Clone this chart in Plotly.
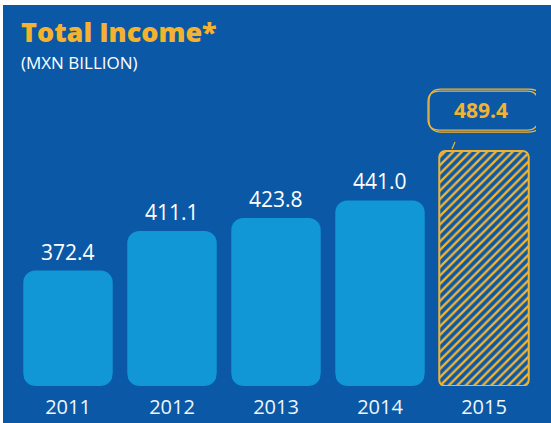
import plotly.graph_objects as go

# --- data -------------------------------------------------------------
years = ["2011", "2012", "2013", "2014", "2015"]
income = [372.4, 411.1, 423.8, 441.0, 489.4]   # MXN billion
value_labels = ["372.4", "411.1", "423.8", "441.0", "489.4"]

# --- styling ----------------------------------------------------------
BG = "#0b59a6"
BAR = "#1196d6"
GOLD = "#f3b331"
WHITE = "#ffffff"
FONT = "Open Sans"

W, H = 551, 423
M_L, M_R, M_T, M_B = 16, 15, 80, 37
Y_FLOOR, Y_TOP = 259.3, 559.0        # value axis window
BAR_W = 0.86
RADIUS = 12
LAST = len(years) - 1                # category index of the highlighted year

plot_w = W - M_L - M_R
plot_h = H - M_T - M_B
bar_px = BAR_W * plot_w / len(years)


def px_x(px):
    """Horizontal pixel -> paper coordinate."""
    return (px - M_L) / plot_w


def px_y(py):
    """Vertical pixel (from top) -> paper coordinate."""
    return (H - M_B - py) / plot_h


hist_years, hist_vals = years[:-1], income[:-1]

fig = go.Figure()

# historic bars, rounded at the top
fig.add_trace(go.Bar(
    x=hist_years, y=[v - Y_FLOOR for v in hist_vals], base=Y_FLOOR,
    width=BAR_W,
    marker=dict(color=BAR, cornerradius=RADIUS, line=dict(width=0)),
    hoverinfo="skip", showlegend=False,
))
# latest year: hatched, hung from its value down to the floor
fig.add_trace(go.Bar(
    x=[years[-1]], y=[Y_FLOOR - income[-1]], base=[income[-1]],
    width=BAR_W,
    marker=dict(
        color=BG, cornerradius=6,
        line=dict(color=GOLD, width=2),
        pattern=dict(shape="/", fgcolor=GOLD, bgcolor=BG, size=6,
                     solidity=0.4, fillmode="replace"),
    ),
    hoverinfo="skip", showlegend=False,
))

annotations = []
for i, (v, lab) in enumerate(zip(hist_vals, value_labels[:-1])):
    annotations.append(dict(
        x=i, y=v, xref="x", yref="y", text=lab, showarrow=False,
        yanchor="middle", yshift=19,
        font=dict(family=FONT, size=21, color=WHITE),
    ))
annotations.append(dict(
    x=LAST, y=income[-1], xref="x", yref="y", text=value_labels[-1],
    showarrow=False, yanchor="middle", yshift=41, xshift=-3,
    font=dict(family=FONT, size=21, color=GOLD, weight="bold"),
))
annotations.append(dict(
    x=px_x(19), y=px_y(32), xref="paper", yref="paper", text="Total Income*",
    showarrow=False, xanchor="left", yanchor="middle",
    font=dict(family=FONT, size=27, color=GOLD, weight=800),
))
annotations.append(dict(
    x=px_x(19), y=px_y(62), xref="paper", yref="paper", text="(MXN BILLION)",
    showarrow=False, xanchor="left", yanchor="middle",
    font=dict(family=FONT, size=17, color=WHITE),
))


def rounded_box(x0, y0, x1, y1, r):
    """Rounded rectangle path, pixel offsets with y pointing up."""
    return (f"M{x0 + r},{y0} L{x1 - r},{y0} Q{x1},{y0} {x1},{y0 + r} "
            f"L{x1},{y1 - r} Q{x1},{y1} {x1 - r},{y1} L{x0 + r},{y1} "
            f"Q{x0},{y1} {x0},{y1 - r} L{x0},{y0 + r} Q{x0},{y0} {x0 + r},{y0} Z")


def corner_masks(r):
    """Background-coloured wedges that round off a bar's bottom corners."""
    hw = bar_px / 2
    left = (f"M{-hw - 1},-1 L{-hw + r},-1 L{-hw + r},0 Q{-hw},0 {-hw},{r} "
            f"L{-hw - 1},{r} Z")
    right = (f"M{hw + 1},-1 L{hw - r},-1 L{hw - r},0 Q{hw},0 {hw},{r} "
             f"L{hw + 1},{r} Z")
    return left, right


shapes = [
    # white strips along the top and left edges
    dict(type="rect", xref="paper", yref="paper",
         x0=px_x(-5), x1=px_x(W + 5), y0=px_y(5), y1=px_y(-5),
         fillcolor="white", line=dict(width=0), layer="above"),
    dict(type="rect", xref="paper", yref="paper",
         x0=px_x(-5), x1=px_x(3), y0=px_y(H + 5), y1=px_y(-5),
         fillcolor="white", line=dict(width=0), layer="above"),
]
for i in range(len(hist_years)):
    for p in corner_masks(RADIUS):
        shapes.append(dict(
            type="path", xref="x", yref="y", xsizemode="pixel",
            ysizemode="pixel", xanchor=i, yanchor=Y_FLOOR, path=p,
            fillcolor=BG, line=dict(width=0), layer="above",
        ))
# hand-drawn loop around the latest value
for (bx0, by0, bx1, by1, rr) in [(-56, 21, 54, 60, 11), (-55, 19, 57, 62, 12)]:
    shapes.append(dict(
        type="path", xref="x", yref="y", xsizemode="pixel", ysizemode="pixel",
        xanchor=LAST, yanchor=income[-1],
        path=rounded_box(bx0, by0, bx1, by1, rr),
        line=dict(color=GOLD, width=1.3), fillcolor="rgba(0,0,0,0)",
    ))
# small pen flick above the hatched bar
shapes.append(dict(
    type="path", xref="x", yref="y", xsizemode="pixel", ysizemode="pixel",
    xanchor=LAST, yanchor=income[-1],
    path="M-32,2 L-29,9", line=dict(color=GOLD, width=1.2),
))

fig.update_layout(
    width=W, height=H,
    margin=dict(l=M_L, r=M_R, t=M_T, b=M_B),
    paper_bgcolor=BG, plot_bgcolor=BG,
    barmode="overlay",
    xaxis=dict(
        type="category", categoryorder="array", categoryarray=years,
        range=[-0.5, len(years) - 0.5], autorange=False, automargin=False,
        showgrid=False, zeroline=False, showline=False,
        ticks="", ticklabelstandoff=7,
        tickfont=dict(family=FONT, size=20, color="#eef5fc"),
        fixedrange=True,
    ),
    yaxis=dict(range=[Y_FLOOR, Y_TOP], autorange=False, visible=False,
               fixedrange=True),
    annotations=annotations,
    shapes=shapes,
    showlegend=False,
)

fig.write_html("out.html")
